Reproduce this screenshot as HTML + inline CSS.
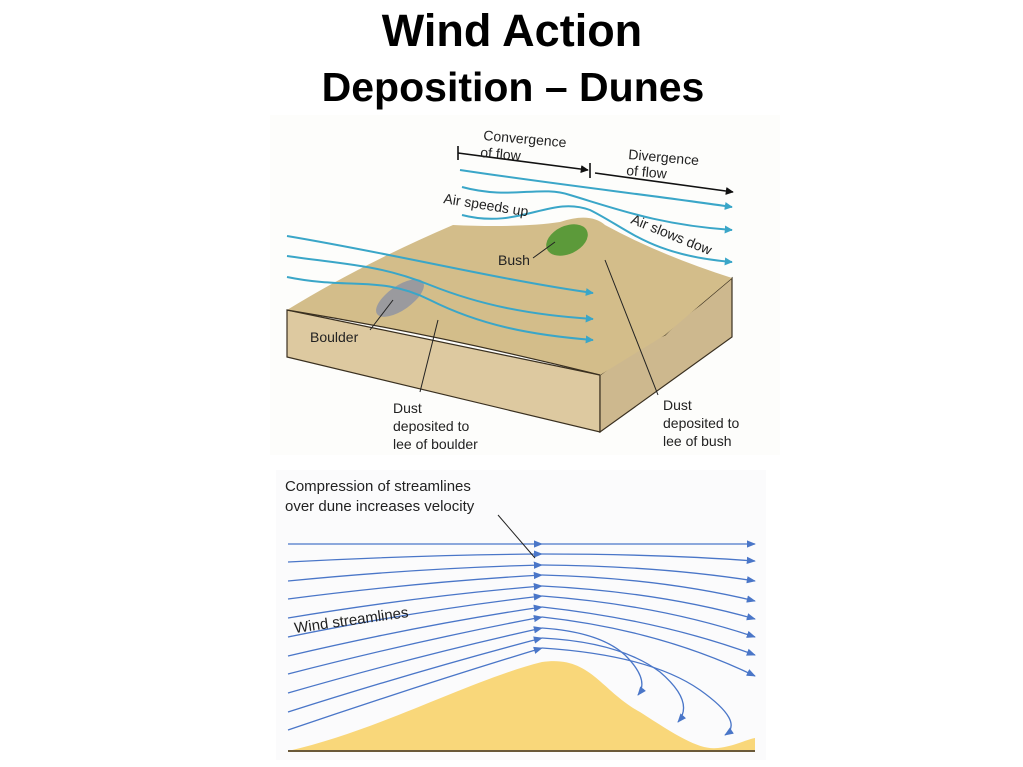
<!DOCTYPE html>
<html><head><meta charset="utf-8"><style>
html,body{margin:0;padding:0;background:#fff}
svg{display:block}
text{font-family:"Liberation Sans",Arial,sans-serif}
</style></head><body>
<svg width="1023" height="767" viewBox="0 0 1023 767" xmlns="http://www.w3.org/2000/svg">
<defs>
<marker id="ca" viewBox="0 0 10 10" refX="9" refY="5" markerWidth="4" markerHeight="4" orient="auto"><path d="M0,0L10,5L0,10z" fill="#3aa6c8"/></marker>
<marker id="ka" viewBox="0 0 10 10" refX="9" refY="5" markerWidth="5" markerHeight="5" orient="auto"><path d="M0,0L10,5L0,10z" fill="#111"/></marker>
<marker id="ba" viewBox="0 0 10 10" refX="9" refY="5" markerWidth="7" markerHeight="7" orient="auto"><path d="M0,1L10,5L0,9z" fill="#4a76c8"/></marker>
</defs>
<text x="512" y="46" font-size="45" font-weight="bold" text-anchor="middle">Wind Action</text>
<text x="513" y="101" font-size="41" font-weight="bold" text-anchor="middle">Deposition – Dunes</text>

<rect x="270" y="115" width="510" height="340" fill="#fdfdfb"/>
<!-- block -->
<path d="M287,310 L600,375 L600,432 L287,357 Z" fill="#ddc9a0" stroke="#3a3020" stroke-width="1.2"/>
<path d="M600,375 L640,345 L665,335 L680,320 L700,305 L732,278 L732,337 L600,432 Z" fill="#cdb88e" stroke="#3a3020" stroke-width="1.2"/>
<path d="M287,310 Q360,265 453,225 Q520,228 560,222 Q590,212 605,225 Q660,255 732,278 L700,305 L665,335 L600,375 Q440,335 287,310 Z" fill="#d3bd8a"/>
<path d="M287,310 Q440,335 600,375" fill="none" stroke="#3a3020" stroke-width="1.2"/>
<ellipse cx="400" cy="298" rx="28" ry="12" transform="rotate(-35 400 298)" fill="#9a9a9e"/>
<ellipse cx="567" cy="240" rx="22" ry="14" transform="rotate(-25 567 240)" fill="#5c9a3a"/>
<!-- cyan lines -->
<g fill="none" stroke="#3aa6c8" stroke-width="2" marker-end="url(#ca)">
<path d="M460,170 C560,185 650,195 732,207"/>
<path d="M462,187 C510,200 540,185 570,195 C620,210 660,225 732,230"/>
<path d="M462,215 C520,230 550,195 590,210 C630,230 650,255 732,262"/>
<path d="M287,236 C400,255 500,280 593,293"/>
<path d="M287,256 C350,265 380,265 430,285 C480,305 530,315 593,319"/>
<path d="M287,277 C350,290 380,275 430,300 C480,325 530,335 593,340"/>
</g>
<g fill="none" stroke="#111" stroke-width="1.6">
<path d="M458,153 L588,170" marker-end="url(#ka)"/>
<path d="M595,173 L733,192" marker-end="url(#ka)"/>
<path d="M458,146 L458,160 M590,163 L590,178"/>
</g>
<g stroke="#222" stroke-width="1">
<path d="M370,330 L393,300"/><path d="M420,392 L438,320"/><path d="M658,395 L605,260"/><path d="M533,258 L555,242"/>
</g>
<g font-size="14" fill="#222">
<text x="483" y="140" transform="rotate(5 483 140)">Convergence</text>
<text x="480" y="157" transform="rotate(5 480 157)">of flow</text>
<text x="628" y="159" transform="rotate(5 628 159)">Divergence</text>
<text x="626" y="175" transform="rotate(5 626 175)">of flow</text>
<text x="443" y="203" transform="rotate(9 443 203)">Air speeds up</text>
<text x="630" y="223" transform="rotate(22 630 223)">Air slows dow</text>
<text x="498" y="265">Bush</text>
<text x="310" y="342">Boulder</text>
<text x="393" y="413">Dust</text><text x="393" y="431">deposited to</text><text x="393" y="449">lee of boulder</text>
<text x="663" y="410">Dust</text><text x="663" y="428">deposited to</text><text x="663" y="446">lee of bush</text>
</g>

<!-- lower -->
<rect x="276" y="470" width="490" height="290" fill="#fbfbfc"/>
<path d="M288,751 C380,730 470,680 542,662 C590,655 600,690 640,712 C680,738 700,750 718,748 C735,746 745,740 755,738 L755,751 Z" fill="#f9d77a"/>
<line x1="288" y1="751" x2="755" y2="751" stroke="#6b5a3a" stroke-width="2"/>
<g fill="none" stroke="#4a76c8" stroke-width="1.3">
<path d="M288,544 L542,544" marker-end="url(#ba)"/><path d="M542,544 L755,544" marker-end="url(#ba)"/>
<path d="M288,562 Q420,555 542,554" marker-end="url(#ba)"/><path d="M542,554 Q660,554 755,561" marker-end="url(#ba)"/>
<path d="M288,581 Q420,568 542,565" marker-end="url(#ba)"/><path d="M542,565 Q660,566 755,581" marker-end="url(#ba)"/>
<path d="M288,599 Q420,582 542,575" marker-end="url(#ba)"/><path d="M542,575 Q660,578 755,601" marker-end="url(#ba)"/>
<path d="M288,618 Q420,596 542,586" marker-end="url(#ba)"/><path d="M542,586 Q660,592 755,619" marker-end="url(#ba)"/>
<path d="M288,637 Q420,610 542,596" marker-end="url(#ba)"/><path d="M542,596 Q660,605 755,637" marker-end="url(#ba)"/>
<path d="M288,656 Q420,625 542,607" marker-end="url(#ba)"/><path d="M542,607 Q660,620 755,655" marker-end="url(#ba)"/>
<path d="M288,674 Q420,640 542,617" marker-end="url(#ba)"/><path d="M542,617 Q660,630 755,676" marker-end="url(#ba)"/>
<path d="M288,693 Q420,655 542,628" marker-end="url(#ba)"/><path d="M542,628 Q600,632 625,655 Q650,680 638,695" marker-end="url(#ba)"/>
<path d="M288,712 Q420,670 542,638" marker-end="url(#ba)"/><path d="M542,638 Q620,642 660,672 Q695,702 678,722" marker-end="url(#ba)"/>
<path d="M288,730 Q420,685 542,648" marker-end="url(#ba)"/><path d="M542,648 Q650,655 700,690 Q745,722 725,735" marker-end="url(#ba)"/>
</g>
<line x1="498" y1="515" x2="535" y2="558" stroke="#222" stroke-width="1"/>
<g font-size="15" fill="#222">
<text x="285" y="491">Compression of streamlines</text>
<text x="285" y="511">over dune increases velocity</text>
<text x="295" y="633" transform="rotate(-8 295 633)">Wind streamlines</text>
</g>
</svg>
</body></html>
